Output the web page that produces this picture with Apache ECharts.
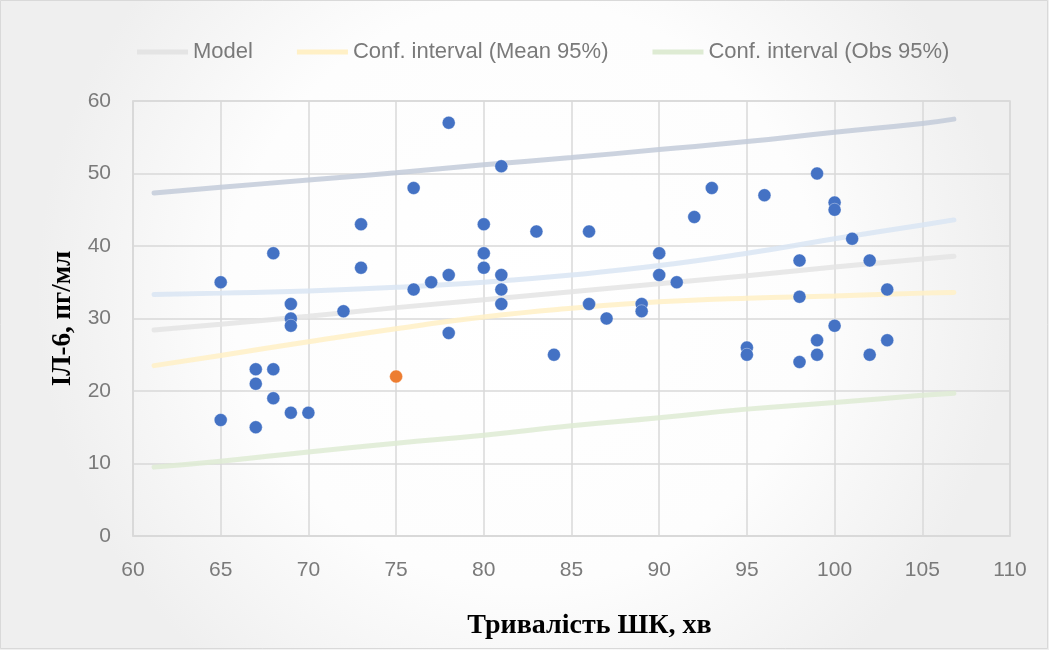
<!DOCTYPE html>
<html>
<head>
<meta charset="utf-8">
<script src="https://cdn.jsdelivr.net/npm/echarts@6/dist/echarts.min.js"></script>
<style>
html,body{margin:0;padding:0;background:#fff;}
#chart{width:1049px;height:650px;}
</style>
</head>
<body>
<div id="chart"></div>
<script>
// Observations (Тривалість ШК, хв ; ІЛ-6, пг/мл)
var obsX = [65,65,67,67,67,68,68,68,69,69,69,69,70,72,73,73,76,76,77,78,78,78,80,80,80,81,81,81,81,83,84,86,86,87,89,89,90,90,91,92,93,95,95,96,98,98,98,99,99,99,100,100,100,101,102,102,103,103];
var obsY = [35,16,23,21,15,39,23,19,32,30,29,17,17,31,43,37,48,34,35,57,36,28,43,39,37,51,36,34,32,42,25,42,32,30,32,31,39,36,35,44,48,26,25,47,38,33,24,50,27,25,46,45,29,41,38,25,34,27];
// highlighted observation
var hiX = [75];
var hiY = [22];

// Model and confidence bands read at these x positions
var bandX      = [61.2, 65, 70, 75, 80, 85, 90, 95, 100, 105, 106.8];
var modelY     = [28.4, 29.2, 30.3, 31.5, 32.6, 33.7, 34.8, 35.9, 37.1, 38.2, 38.6];
var meanLowY   = [23.5, 24.9, 26.8, 28.6, 30.2, 31.4, 32.3, 32.8, 33.1, 33.5, 33.6];
var meanUpY    = [33.3, 33.5, 33.8, 34.3, 35.0, 36.0, 37.3, 39.0, 41.0, 42.9, 43.6];
var obsLowY    = [9.5, 10.3, 11.6, 12.8, 13.9, 15.2, 16.3, 17.5, 18.4, 19.4, 19.7];
var obsUpY     = [47.3, 48.1, 49.1, 50.1, 51.2, 52.2, 53.3, 54.4, 55.7, 56.9, 57.5];

var legendNames = ['Model', 'Conf. interval (Mean 95%)', 'Conf. interval (Obs 95%)'];
var xTitle = 'Тривалість ШК, хв';
var yTitle = 'ІЛ-6, пг/мл';

function pairs(xs, ys){ return xs.map(function(x,i){ return [x, ys[i]]; }); }

var chart = echarts.init(document.getElementById('chart'), null, {renderer:'canvas'});
var tickFont = 'Liberation Sans';
function lineSeries(name, ys, color, smooth){
  return {
    name: name, type: 'line', data: pairs(bandX, ys), smooth: smooth,
    showSymbol: false, symbol: 'none', silent: true,
    lineStyle: {color: color, width: 5, opacity: 0.85, cap: 'round'},
    itemStyle: {color: color}, z: 2
  };
}
chart.setOption({
  animation: false,
  backgroundColor: {
    type: 'radial', x: 0.5, y: 0.45, r: 0.75,
    colorStops: [{offset: 0, color: '#ffffff'}, {offset: 0.6, color: '#fdfdfd'}, {offset: 1, color: '#efefef'}]
  },
  graphic: [{
    type: 'rect', shape: {x: 0.5, y: 0.5, width: 1047, height: 648},
    style: {fill: 'none', stroke: '#d9d9d9', lineWidth: 1}, silent: true
  }],
  legend: {
    data: legendNames, left: 132, top: 36, itemWidth: 51, itemHeight: 5, itemGap: 44,
    icon: 'rect',
    textStyle: {fontFamily: tickFont, fontSize: 22, color: '#7a7a7a', padding: [0,0,0,0]},
    selectedMode: false
  },
  grid: {left: 133, right: 39, top: 101, bottom: 114, show: true, borderColor: '#d9d9d9', borderWidth: 1.5, backgroundColor: 'transparent'},
  xAxis: {
    type: 'value', min: 60, max: 110, interval: 5,
    name: xTitle, nameLocation: 'middle', nameGap: 76,
    nameTextStyle: {fontFamily: 'Liberation Serif', fontWeight: 'bold', fontSize: 28, color: '#000', padding: [0,0,0,36]},
    axisLine: {show: true, lineStyle: {color: '#d9d9d9', width: 1.5}},
    axisTick: {show: false},
    axisLabel: {fontFamily: tickFont, fontSize: 21, color: '#7a7a7a', margin: 24},
    splitLine: {show: true, lineStyle: {color: '#d9d9d9', width: 1.5}}
  },
  yAxis: {
    type: 'value', min: 0, max: 60, interval: 10,
    name: yTitle, nameLocation: 'middle', nameGap: 54, nameRotate: 90,
    nameTextStyle: {fontFamily: 'Liberation Serif', fontWeight: 'bold', fontSize: 27, color: '#000'},
    axisLine: {show: true, lineStyle: {color: '#d9d9d9', width: 1.5}},
    axisTick: {show: false},
    axisLabel: {fontFamily: tickFont, fontSize: 21, color: '#7a7a7a', margin: 22},
    splitLine: {show: true, lineStyle: {color: '#d9d9d9', width: 1.5}}
  },
  series: [
    lineSeries('Model', modelY, '#e4e4e4', false),
    lineSeries('Conf. interval (Mean 95%)', meanLowY, '#fff0c6', true),
    lineSeries('Mean upper', meanUpY, '#d9e5f3', true),
    lineSeries('Conf. interval (Obs 95%)', obsLowY, '#deebd3', true),
    lineSeries('Obs upper', obsUpY, '#c3cbd9', true),
    {
      name: 'Observations', type: 'scatter', data: pairs(obsX, obsY),
      symbol: 'circle', symbolSize: 13, z: 5,
      itemStyle: {color: '#4472C4', borderColor: 'rgba(255,255,255,0.6)', borderWidth: 0.6, opacity: 1}
    },
    {
      name: 'Highlighted', type: 'scatter', data: pairs(hiX, hiY),
      symbol: 'circle', symbolSize: 13, z: 6,
      itemStyle: {color: '#ED7D31', borderColor: 'rgba(255,255,255,0.6)', borderWidth: 0.6, opacity: 1}
    }
  ]
});
</script>
</body>
</html>
